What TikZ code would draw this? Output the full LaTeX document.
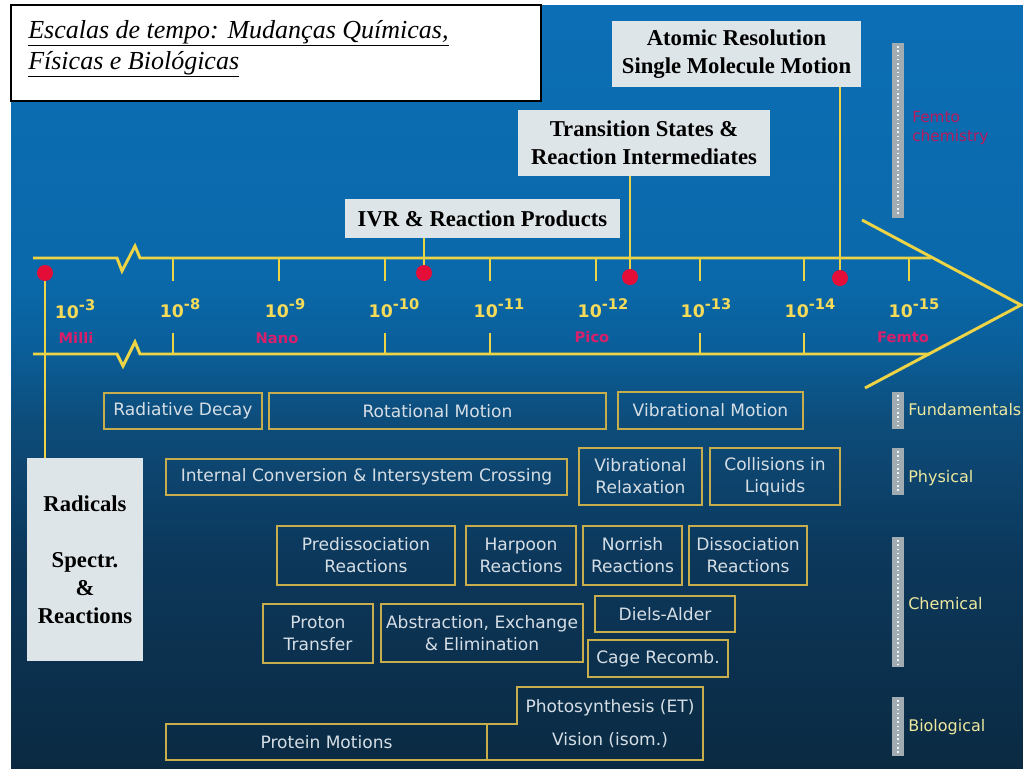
\documentclass[tikz,border=0pt]{standalone}
\usepackage{fontspec}
\setmainfont{Liberation Serif}
\setsansfont{DejaVu Sans}
\newfontfamily\boxfont{DejaVu Sans}
\definecolor{bgA}{rgb}{0.043,0.165,0.259}
\definecolor{bgB}{rgb}{0.047,0.216,0.353}
\definecolor{bgC}{rgb}{0.051,0.300,0.480}
\definecolor{bgD}{rgb}{0.040,0.370,0.600}
\definecolor{bgE}{rgb}{0.039,0.410,0.665}
\definecolor{bgF}{rgb}{0.047,0.432,0.710}
\definecolor{tly}{rgb}{0.93,0.83,0.28}
\definecolor{boxy}{rgb}{0.78,0.68,0.30}
\definecolor{boxtxt}{rgb}{0.84,0.87,0.90}
\definecolor{axy}{rgb}{0.96,0.86,0.35}
\definecolor{pinkc}{rgb}{0.85,0.12,0.42}
\definecolor{marble}{rgb}{0.87,0.90,0.91}
\definecolor{barg}{rgb}{0.63,0.67,0.70}
\definecolor{lblc}{rgb}{0.93,0.91,0.62}
\definecolor{dotred}{rgb}{0.89,0.05,0.22}
\pgfdeclareverticalshading{bgshade}{100bp}{color(0bp)=(bgA); color(25bp)=(bgA); color(38.6bp)=(bgB); color(47.8bp)=(bgC); color(52.4bp)=(bgD); color(57bp)=(bgE); color(75bp)=(bgF); color(100bp)=(bgF)}
\newcommand\expo[1]{10\raisebox{0.45em}{\fontsize{11}{11}\selectfont #1}}
% box from (x1,y1) to (x2,y2), name, text
\newcommand\bx[7][]{\node[#1, minimum width={(#4-#2)*0.75pt}, minimum height={(#5-#3)*0.75pt}] (#6) at ({(#2+#4)/2},{(#3+#5)/2}) {#7};}
\begin{document}
\begin{tikzpicture}[x=0.75pt,y=-0.75pt,
  tl/.style={draw=tly, line width=2.2pt, line join=miter},
  conn/.style={draw=tly, line width=1.4pt},
  ebox/.style={draw=boxy, line width=1.3pt, text=boxtxt, inner sep=0pt, align=center,
     font={\boxfont\fontsize{12.8}{16.5}\selectfont}},
  lbl/.style={fill=marble, inner sep=0pt, align=center, text=black,
     font={\fontsize{17}{21}\selectfont\bfseries}},
  dot/.style={circle, fill=dotred, inner sep=0pt, minimum size=12pt},
  axl/.style={text=axy, anchor=base, inner sep=0pt, font={\sffamily\bfseries\fontsize{13}{13}\selectfont}},
  pinkl/.style={text=pinkc, anchor=base, inner sep=0pt, font={\sffamily\bfseries\fontsize{11}{11}\selectfont}},
  barl/.style={text=lblc, anchor=west, inner sep=0pt, font={\sffamily\fontsize{12}{12}\selectfont}},
  titletext/.style={anchor=base west, inner sep=0pt, font={\fontsize{19.5}{22}\selectfont\itshape}}
]
\useasboundingbox (0,0) rectangle (1023,768);
\fill[white] (0,0) rectangle (1023,768);
\shade[shading=bgshade] (11,5) rectangle (1023,768);

% title
\bx[draw=black, line width=1.5pt, fill=white, inner sep=0pt]{11}{5}{541}{101}{title}{}
\node[titletext] (t1) at (28,38) {\underline{Escalas de tempo: Mudanças Químicas,}};
\node[titletext] (t2) at (28,69) {\underline{Físicas e Biológicas}};

% timeline
\draw[tl] (33,258) -- (117,258) -- (122,271) -- (135,246) -- (140,258) -- (931,258);
\draw[tl] (33,354) -- (117,354) -- (123,366) -- (135,342) -- (140,354) -- (930,354);
\draw[tl] (862,220) -- (1021,305) -- (865,388);
\foreach \x in {173,279,385,490,596,700,804,909} \draw[conn] (\x,258) -- (\x,281);
\foreach \x in {173,385,490,700,804} \draw[conn] (\x,354) -- (\x,333);

\node[axl] (e3) at (75,318) {\expo{-3}};
\node[axl] (e8) at (180,317) {\expo{-8}};
\node[axl] (e9) at (285,317) {\expo{-9}};
\node[axl] (e10) at (394,317) {\expo{-10}};
\node[axl] (e11) at (499,317) {\expo{-11}};
\node[axl] (e12) at (603,317) {\expo{-12}};
\node[axl] (e13) at (706,317) {\expo{-13}};
\node[axl] (e14) at (810,317) {\expo{-14}};
\node[axl] (e15) at (914,317) {\expo{-15}};

\node[pinkl] (milli) at (76,343) {Milli};
\node[pinkl] (nano) at (277,343) {Nano};
\node[pinkl] (pico) at (592,342) {Pico};
\node[pinkl] (femto) at (903,342) {Femto};

% label boxes
\bx[lbl]{612}{21}{861}{87}{atom}{Atomic Resolution\\Single Molecule Motion}
\bx[lbl]{518}{110}{770}{176}{trans}{Transition States \&\\Reaction Intermediates}
\bx[lbl]{345}{199}{620}{238}{ivr}{IVR \& Reaction Products}
\bx[lbl]{27}{458}{143}{661}{rad}{Radicals\\[21pt]Spectr.\\\&\\Reactions}

% dots
\node[dot] (d1) at (45,273) {};
\node[dot] (d2) at (424,273) {};
\node[dot] (d3) at (630,277) {};
\node[dot] (d4) at (840,278) {};
\draw[conn] (d1.south) -- (d1.south |- rad.north);
\draw[conn] (d2.north) -- (d2.north |- ivr.south);
\draw[conn] (d3.north) -- (d3.north |- trans.south);
\draw[conn] (d4.north) -- (d4.north |- atom.south);

% event boxes
\bx[ebox]{104}{393}{262}{429}{rd}{Radiative Decay}
\bx[ebox]{269}{393}{606}{429}{rm}{Rotational Motion}
\bx[ebox]{618}{392}{803}{429}{vm}{Vibrational Motion}
\bx[ebox]{166}{459}{567}{495}{ic}{Internal Conversion \& Intersystem Crossing}
\bx[ebox]{579}{448}{702}{505}{vr}{Vibrational\\Relaxation}
\bx[ebox]{710}{448}{840}{505}{cl}{Collisions in\\Liquids}
\bx[ebox]{277}{526}{455}{585}{pr}{Predissociation\\Reactions}
\bx[ebox]{466}{526}{576}{585}{hr}{Harpoon\\Reactions}
\bx[ebox]{583}{526}{682}{585}{nr}{Norrish\\Reactions}
\bx[ebox]{689}{526}{807}{585}{dr}{Dissociation\\Reactions}
\bx[ebox]{263}{604}{373}{663}{pt}{Proton\\Transfer}
\bx[ebox]{381}{604}{583}{662}{ab}{Abstraction, Exchange\\\& Elimination}
\bx[ebox]{595}{596}{735}{632}{da}{Diels-Alder}
\bx[ebox]{588}{640}{728}{677}{cr}{Cage Recomb.}
\bx[ebox]{166}{724}{487}{760}{pm}{Protein Motions}
\draw[draw=boxy, line width=1.3pt] (487,760) -- (487,724) -- (517,724) -- (517,687) -- (703,687) -- (703,760) -- cycle;
\node[ebox, draw=none] (ph1) at (610,708) {Photosynthesis (ET)};
\node[ebox, draw=none] (ph2) at (610,740) {Vision (isom.)};

% right bars
\foreach \a/\b in {43/218,392/429,448/495,537/667,697/756}{
  \fill[barg] (892,\a) rectangle (904,\b);
  \draw[white!85!barg, line width=1.2pt, dotted] (898,\a+3) -- (898,\b-3);
}
\node[text=pinkc!85!black, anchor=north west, inner sep=0pt, align=left,
  font={\sffamily\fontsize{11.5}{14}\selectfont}] (fc) at (912,111) {Femto\\chemistry};
\node[barl] (fu) at (908,410) {Fundamentals};
\node[barl] (ph) at (908,478) {Physical};
\node[barl] (ch) at (908,604) {Chemical};
\node[barl] (bi) at (908,727) {Biological};
\end{tikzpicture}
\end{document}
